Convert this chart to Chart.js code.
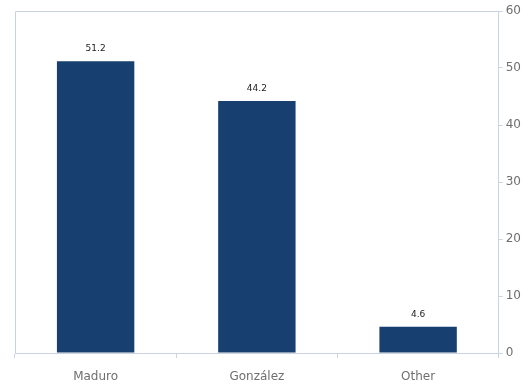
<!DOCTYPE html>
<html>
<head>
<meta charset="utf-8">
<script src="https://cdn.jsdelivr.net/npm/chart.js@4"></script>
<style>
  html, body { margin: 0; padding: 0; background: #fff; }
  #wrap { width: 528px; height: 387px; }
</style>
</head>
<body>
<div id="wrap"><canvas id="chart"></canvas></div>
<script>
const candidates = ["Maduro", "González", "Other"];
const votes = [51.2, 44.2, 4.6];
const yTicks = [0, 10, 20, 30, 40, 50, 60];

const barColor = "#173f6f";
const axisColor = "#c9d3e1";

// box around the plot area (top and left edges)
const frame = {
    id: "frame",
    beforeDatasetsDraw(chart) {
        let a = chart.chartArea;
        let ctx = chart.ctx;
        ctx.save();
        ctx.strokeStyle = axisColor;
        ctx.lineWidth = 1;
        ctx.beginPath();
        ctx.moveTo(a.left + 0.5, a.bottom);
        ctx.lineTo(a.left + 0.5, a.top + 0.5);
        ctx.lineTo(a.right, a.top + 0.5);
        ctx.stroke();
        ctx.restore();
    }
};

// value text over each bar
const valueLabels = {
    id: "valueLabels",
    afterDatasetsDraw(chart) {
        let ctx = chart.ctx;
        let meta = chart.getDatasetMeta(0);
        ctx.save();
        ctx.fillStyle = "#222";
        ctx.font = "9px 'DejaVu Sans', Verdana, sans-serif";
        ctx.textAlign = "center";
        ctx.textBaseline = "bottom";
        meta.data.forEach(function (bar, i) {
            ctx.fillText(votes[i].toFixed(1), bar.x, bar.y - 8);
        });
        ctx.restore();
    }
};

new Chart(document.getElementById("chart"), {
    type: "bar",
    data: {
        labels: candidates,
        datasets: [{
            data: votes,
            backgroundColor: barColor,
            borderWidth: 0,
            barPercentage: 0.96,
            categoryPercentage: 0.5
        }]
    },
    options: {
        responsive: true,
        maintainAspectRatio: false,
        animation: false,
        layout: { padding: { left: 15, top: 11, right: 4, bottom: 0 } },
        plugins: {
            legend: { display: false },
            tooltip: { enabled: false }
        },
        scales: {
            x: {
                afterFit(axis) {
                    axis.height = 34;
                },
                grid: {
                    offset: true,
                    drawOnChartArea: false,
                    tickLength: 5,
                    color: axisColor
                },
                border: { color: axisColor },
                ticks: {
                    color: "#6f6f6f",
                    padding: 12,
                    font: { family: "'DejaVu Sans', Verdana, sans-serif", size: 12 }
                }
            },
            y: {
                position: "right",
                min: 0,
                max: 60,
                afterBuildTicks(axis) {
                    axis.ticks = yTicks.map(v => ({ value: v }));
                },
                grid: {
                    drawOnChartArea: false,
                    tickLength: 4,
                    color: axisColor
                },
                border: { color: axisColor },
                ticks: {
                    color: "#6f6f6f",
                    padding: 3,
                    font: { family: "'DejaVu Sans', Verdana, sans-serif", size: 12 }
                }
            }
        }
    },
    plugins: [frame, valueLabels]
});
</script>
</body>
</html>
